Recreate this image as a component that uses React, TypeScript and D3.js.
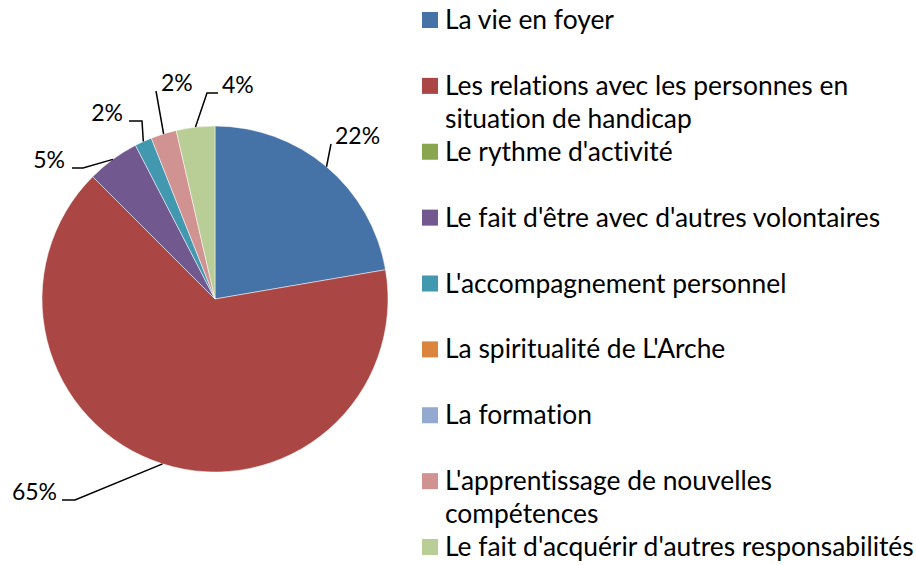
import React from "react";
import * as d3 from "d3";

const categories = [
  "La vie en foyer",
  "Les relations avec les personnes en\nsituation de handicap",
  "Le rythme d'activité",
  "Le fait d'être avec d'autres volontaires",
  "L'accompagnement personnel",
  "La spiritualité de L'Arche",
  "La formation",
  "L'apprentissage de nouvelles\ncompétences",
  "Le fait d'acquérir d'autres responsabilités",
];
const values = [22.3, 65.2, 0, 4.9, 1.6, 0, 0, 2.4, 3.6];
const colors = [
  "#4572A7",
  "#AA4643",
  "#89A54E",
  "#71588F",
  "#4198AF",
  "#DB843D",
  "#93A9CF",
  "#D19392",
  "#B9CD96",
];

// label layout relative to pie centre: text pos, anchor, leader elbow & end
const labelLayout: Record<number, { t: [number, number]; a: string; elbow: [number, number]; end: [number, number] }> = {
  0: { t: [120, -155], a: "start", elbow: [116, -155], end: [116, -155] },
  1: { t: [-158, 201], a: "end", elbow: [-140, 201], end: [-153, 201] },
  3: { t: [-150, -131], a: "end", elbow: [-132, -131], end: [-143, -131] },
  4: { t: [-92, -178], a: "end", elbow: [-73, -178], end: [-86, -178] },
  7: { t: [-54, -208], a: "start", elbow: [-59, -208], end: [-59, -208] },
  8: { t: [7, -206], a: "start", elbow: [-8, -206], end: [3, -206] },
};

const W = 916;
const H = 565;
const cx = 215;
const cy = 299;
const R = 173;
const FONT = "Lato, 'Open Sans', sans-serif";

export default function App() {
  const total = d3.sum(values);
  const pie = d3.pie<number>().sort(null).value((d) => d)(values);
  const arc = d3.arc<d3.PieArcDatum<number>>().innerRadius(0).outerRadius(R);
  const fmt = (v: number) => Math.round((v / total) * 100) + "%";
  const legendY = d3.scaleLinear().domain([0, categories.length - 1]).range([20, 547]);

  return (
    <svg
      width={W}
      height={H}
      style={{ position: "absolute", left: 0, top: 0, background: "#fff", fontVariantLigatures: "none" }}
      fontFamily={FONT}
    >
      <g transform={`translate(${cx},${cy})`}>
        {pie.map((p, i) =>
          p.value > 0 ? (
            <path key={i} d={arc(p) || ""} fill={colors[i]} stroke="#fff" strokeWidth={0.5} />
          ) : null
        )}
        {pie.map((p, i) => {
          const L = labelLayout[i];
          if (!L || p.value <= 0) return null;
          const mid = (p.startAngle + p.endAngle) / 2;
          const sx = R * Math.sin(mid);
          const sy = -R * Math.cos(mid);
          const path = d3.path();
          path.moveTo(sx, sy);
          path.lineTo(L.elbow[0], L.elbow[1]);
          path.lineTo(L.end[0], L.end[1]);
          return (
            <g key={"l" + i}>
              <path d={path.toString()} fill="none" stroke="#000" strokeWidth={1.5} />
              <text x={L.t[0]} y={L.t[1]} textAnchor={L.a} fontSize={23} fill="#000">
                {fmt(p.value)}
              </text>
            </g>
          );
        })}
      </g>
      <g>
        {categories.map((c, i) => {
          const y = legendY(i);
          const lines = c.split("\n");
          return (
            <g key={"lg" + i}>
              <rect x={422} y={y - 8} width={16} height={16} fill={colors[i]} />
              {lines.map((ln, j) => (
                <text key={j} x={445} y={y + j * 33 + 9} fontSize={26.4} fill="#000">
                  {ln}
                </text>
              ))}
            </g>
          );
        })}
      </g>
    </svg>
  );
}
